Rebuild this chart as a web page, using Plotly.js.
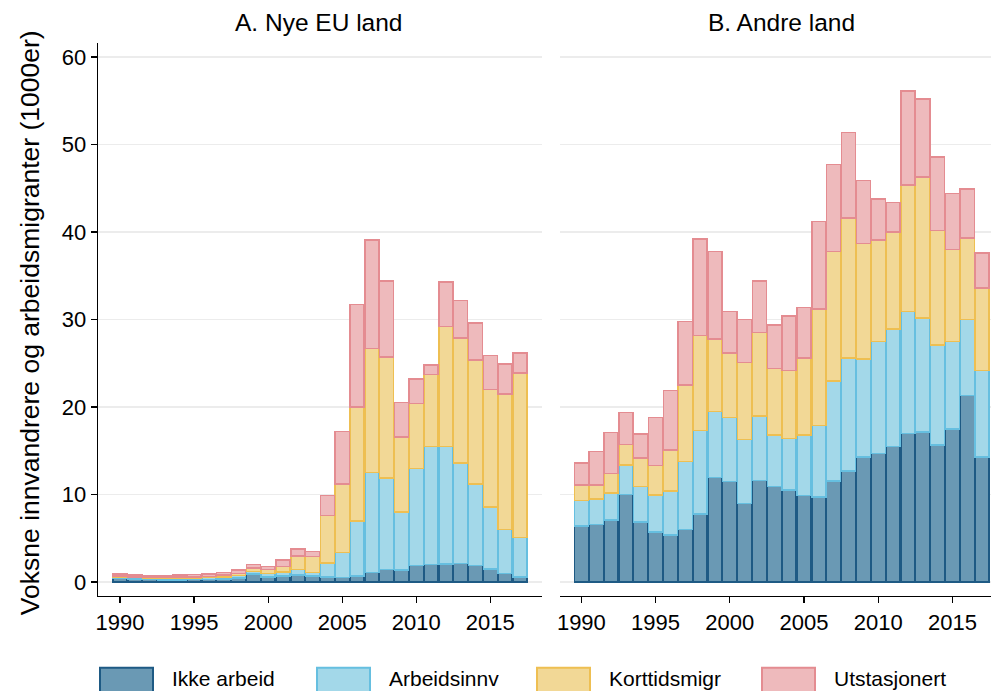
<!DOCTYPE html>
<html>
<head>
<meta charset="utf-8">
<script src="https://cdn.plot.ly/plotly-3.0.1.min.js"></script>
<style>
  html, body { margin: 0; padding: 0; background: #fff; }
  #chart { width: 992px; height: 691px; }
</style>
</head>
<body>
<div id="chart"></div>
<script>
// ---- Data (1000s) ----
const years = [1990, 1991, 1992, 1993, 1994, 1995, 1996, 1997, 1998, 1999,
               2000, 2001, 2002, 2003, 2004, 2005, 2006, 2007, 2008, 2009,
               2010, 2011, 2012, 2013, 2014, 2015, 2016, 2017];
const xTicks = [1990, 1995, 2000, 2005, 2010, 2015];
const yTicks = [0, 10, 20, 30, 40, 50, 60];
const seriesNames = ["Ikke arbeid", "Arbeidsinnv", "Korttidsmigr", "Utstasjonert"];
const panelTitles = ["A. Nye EU land", "B. Andre land"];
const yTitle = "Voksne innvandrere og arbeidsmigranter (1000er)";

// Panel A: Nye EU land
const euIkke = [0.4, 0.35, 0.3, 0.25, 0.25, 0.3, 0.3, 0.35, 0.45, 0.9,
                0.6, 0.7, 0.8, 0.7, 0.6, 0.5, 0.7, 1.1, 1.45, 1.35,
                1.9, 2.0, 2.05, 2.1, 1.9, 1.5, 1.0, 0.6];
const euArb = [0.15, 0.15, 0.15, 0.15, 0.15, 0.15, 0.2, 0.25, 0.3, 0.3,
               0.4, 0.45, 0.65, 0.4, 1.6, 2.9, 6.3, 11.4, 10.45, 6.65,
               11.1, 13.5, 13.45, 11.5, 9.3, 7.1, 5.0, 4.5];
const euKort = [0.15, 0.1, 0.1, 0.1, 0.15, 0.15, 0.15, 0.2, 0.25, 0.4,
                0.45, 0.65, 1.55, 1.8, 5.4, 7.8, 13.0, 14.2, 13.8, 8.6,
                7.4, 8.2, 13.7, 14.3, 14.2, 13.4, 15.5, 18.8];
const euUtst = [0.2, 0.2, 0.2, 0.2, 0.25, 0.25, 0.25, 0.3, 0.35, 0.4,
                0.35, 0.7, 0.75, 0.6, 2.3, 6.0, 11.7, 12.4, 8.7, 3.9,
                2.8, 1.1, 5.1, 4.3, 4.2, 3.9, 3.4, 2.3];

// Panel B: Andre land
const anIkke = [6.4, 6.56, 7.1, 10.0, 6.84, 5.7, 5.4, 6.0, 7.75, 11.95,
                11.5, 9.0, 11.6, 10.9, 10.5, 9.9, 9.74, 11.57, 12.7, 14.3,
                14.7, 15.5, 16.95, 17.15, 15.65, 17.5, 21.3, 14.3];
const anArb = [2.9, 2.94, 3.1, 3.4, 4.06, 4.27, 5.0, 7.75, 9.55, 7.55,
               7.3, 7.3, 7.4, 5.9, 5.9, 6.9, 8.16, 11.43, 12.9, 11.2,
               12.8, 13.4, 13.95, 13.05, 11.45, 10.0, 8.7, 9.9];
const anKort = [1.8, 1.6, 2.2, 2.3, 3.3, 3.33, 4.7, 8.75, 10.9, 8.3,
                7.4, 8.8, 9.5, 7.6, 7.8, 8.8, 13.3, 14.8, 16.0, 13.2,
                11.6, 11.1, 14.5, 16.1, 13.1, 10.5, 9.3, 9.4];
const anUtst = [2.5, 3.8, 4.7, 3.7, 2.7, 5.5, 6.8, 7.3, 11.0, 10.0,
                4.7, 4.9, 5.9, 5.0, 6.2, 5.8, 10.0, 9.9, 9.8, 7.2,
                4.7, 3.4, 10.7, 8.9, 8.4, 6.4, 5.6, 4.0];

// ---- Styles ----
const fills = ["#6a99b4", "#a3d8e9", "#f2d896", "#eebabc"];
const edges = ["#1e5a84", "#66bfe0", "#eebf52", "#e48c91"];
const FONT = "Liberation Sans, Arial, Helvetica, sans-serif";

const panels = [
  {vals: [euIkke, euArb, euKort, euUtst], xa: "x", ya: "y"},
  {vals: [anIkke, anArb, anKort, anUtst], xa: "x2", ya: "y2"}
];

const traces = [];
panels.forEach((p, pi) => {
  p.vals.forEach((v, si) => {
    traces.push({
      type: "bar",
      x: years,
      y: v,
      name: seriesNames[si],
      xaxis: p.xa,
      yaxis: p.ya,
      showlegend: false,
      marker: {color: fills[si], line: {color: edges[si], width: 1.5}},
      hovertemplate: "%{x}: %{y}<extra>" + seriesNames[si] + "</extra>"
    });
  });
});

// pixel -> paper helpers
const W = 992, H = 691;
const ML = 98, MR = 1, MT = 43, MB = 95.3;
const PW = W - ML - MR, PH = H - MT - MB;
const px = v => (v - ML) / PW;
const py = v => (H - MB - v) / PH;

const shapes = [];
const annotations = [];

// panel titles
annotations.push({text: panelTitles[0], xref: "paper", yref: "paper",
  x: px(319), y: py(23), xanchor: "center", yanchor: "middle", showarrow: false,
  font: {family: FONT, size: 24.5, color: "#000"}});
annotations.push({text: panelTitles[1], xref: "paper", yref: "paper",
  x: px(781.5), y: py(23), xanchor: "center", yanchor: "middle", showarrow: false,
  font: {family: FONT, size: 24.5, color: "#000"}});

// y title
annotations.push({text: yTitle, xref: "paper", yref: "paper",
  x: px(30), y: py(323), xanchor: "center", yanchor: "middle", textangle: -90,
  showarrow: false, font: {family: FONT, size: 26.5, color: "#000"}});

// custom legend
const legBoxX = [100, 317, 537, 762];
seriesNames.forEach((n, i) => {
  shapes.push({type: "rect", xref: "paper", yref: "paper",
    x0: px(legBoxX[i]), x1: px(legBoxX[i] + 53), y0: py(667.5), y1: py(696),
    fillcolor: fills[i], line: {color: edges[i], width: 2}});
  annotations.push({text: n, xref: "paper", yref: "paper",
    x: px(legBoxX[i] + 70), y: py(678), xanchor: "left", yanchor: "middle",
    showarrow: false, font: {family: FONT, size: 21, color: "#000"}});
});

const xCommon = {
  tickvals: xTicks, ticks: "outside", ticklen: 6, tickwidth: 1.3, tickcolor: "#000",
  showline: true, linecolor: "#000", linewidth: 1.3, showgrid: false, zeroline: false,
  tickfont: {family: FONT, size: 22, color: "#000"}, fixedrange: true
};

const layout = {
  width: W, height: H,
  margin: {l: ML, r: MR, t: MT, b: MB, pad: 0},
  paper_bgcolor: "#fff", plot_bgcolor: "#fff",
  barmode: "stack", bargap: 0.05,
  showlegend: false,
  font: {family: FONT, color: "#000"},
  xaxis: Object.assign({}, xCommon, {domain: [0, px(542)], range: [1988.51, 2018.49], anchor: "y"}),
  xaxis2: Object.assign({}, xCommon, {domain: [px(560), 1], range: [1988.56, 2017.6], anchor: "y2"}),
  yaxis: {
    domain: [0, 1], range: [-1.6, 61.6], tickvals: yTicks,
    ticks: "outside", ticklen: 6, tickwidth: 1.3, tickcolor: "#000",
    showline: true, linecolor: "#000", linewidth: 1.3,
    showgrid: true, gridcolor: "#ececec", gridwidth: 1.3, zeroline: false,
    tickfont: {family: FONT, size: 22, color: "#000"}, anchor: "x", fixedrange: true
  },
  yaxis2: {
    domain: [0, 1], range: [-1.6, 61.6], tickvals: yTicks, matches: "y",
    showticklabels: false, ticks: "", showline: false,
    showgrid: true, gridcolor: "#ececec", gridwidth: 1.3, zeroline: false,
    anchor: "x2", fixedrange: true
  },
  shapes: shapes,
  annotations: annotations
};

Plotly.newPlot("chart", traces, layout, {displayModeBar: false, staticPlot: true});
</script>
</body>
</html>
